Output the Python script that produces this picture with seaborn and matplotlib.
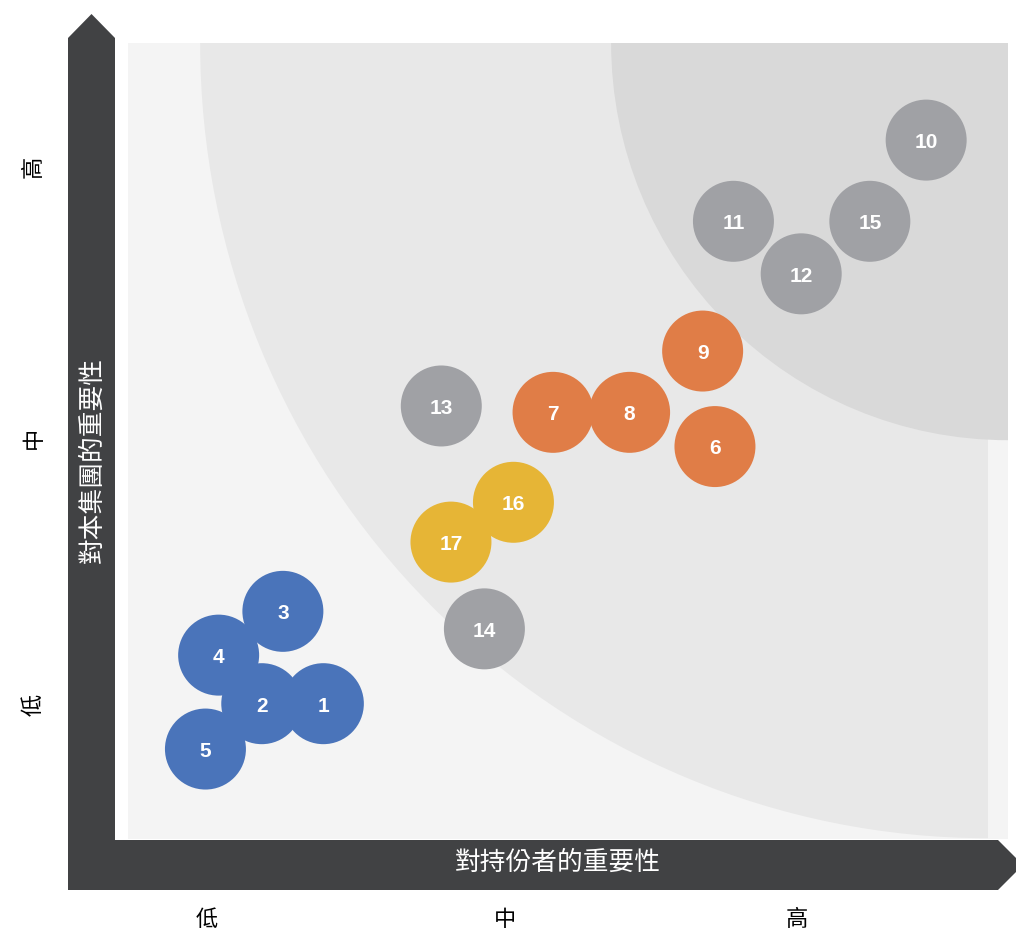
import numpy as np
import pandas as pd
import seaborn as sns
import matplotlib.pyplot as plt
from matplotlib.patches import Ellipse, Polygon, Rectangle

# materiality issues: stakeholder importance (x) vs group importance (y), 0-10 scale
issue_ids = [1, 2, 3, 4, 5, 6, 7, 8, 9, 10, 11, 12, 13, 14, 15, 16, 17]
stakeholder_score = [2.22, 1.52, 1.76, 1.03, 0.88, 6.67, 4.83, 5.70, 6.53, 9.07,
                     6.88, 7.65, 3.56, 4.05, 8.43, 4.38, 3.67]
group_score = [1.70, 1.70, 2.86, 2.31, 1.13, 4.93, 5.36, 5.36, 6.13, 8.78,
               7.76, 7.10, 5.44, 2.64, 7.76, 4.23, 3.73]
issue_group = ['blue', 'blue', 'blue', 'blue', 'blue',
               'orange', 'orange', 'orange', 'orange',
               'gray', 'gray', 'gray', 'gray', 'gray', 'gray',
               'yellow', 'yellow']

x_tick_pos = [0.90, 4.28, 7.60]
y_tick_pos = [1.68, 5.04, 8.44]
tick_labels = ['低', '中', '高']
x_title = '對持份者的重要性'
y_title = '對本集團的重要性'

palette = {'blue': '#4a74ba', 'orange': '#e07d47', 'gray': '#a0a1a5', 'yellow': '#e6b536'}

df = pd.DataFrame({'id': issue_ids, 'x': stakeholder_score, 'y': group_score,
                   'group': issue_group})

sns.set_style('white')
plt.rcParams['font.family'] = ['Noto Sans CJK TC', 'DejaVu Sans']

fig = plt.figure(figsize=(10.16, 9.3), dpi=100)

# background layer in pixel units for the arrows and axis titles
bg = fig.add_axes([0, 0, 1, 1], zorder=0)
bg.set_xlim(0, 1016)
bg.set_ylim(930, 0)
bg.axis('off')
bar_col = '#414244'
bg.add_patch(Polygon([(68, 890), (68, 38), (91.5, 14), (115, 38), (115, 890)],
                     closed=True, color=bar_col, lw=0))
bg.add_patch(Polygon([(68, 840), (998, 840), (1023, 865), (998, 890), (68, 890)],
                     closed=True, color=bar_col, lw=0))
bg.text(558, 863, x_title, color='white', fontsize=18.5, ha='center', va='center')
bg.text(93, 460, y_title, color='white', fontsize=18.5, ha='center', va='center',
        rotation=90)

# matrix
ax = fig.add_axes([128 / 1016, 91 / 930, 880 / 1016, 796 / 930], zorder=1)
ax.set_facecolor('#f4f4f4')
ax.set_xlim(0, 10)
ax.set_ylim(0, 10)

clip = Rectangle((0, 0), 9.77, 10, transform=ax.transData)
mid = Ellipse((9.77, 10), 2 * 8.95, 2 * 9.99, color='#e8e8e8', lw=0, zorder=0)
ax.add_patch(mid)
mid.set_clip_path(clip)
ax.add_patch(Ellipse((10, 10), 2 * 4.51, 2 * 4.99, color='#d9d9d9', lw=0, zorder=1))

sns.scatterplot(data=df, x='x', y='y', hue='group', palette=palette, s=3400,
                linewidth=0, alpha=1, legend=False, ax=ax, zorder=3)
for _, r in df.iterrows():
    ax.text(r['x'], r['y'] - 0.03, str(r['id']), color='white', fontsize=15,
            fontweight='bold', family='Liberation Sans', ha='center', va='center',
            zorder=4)

for s in ax.spines.values():
    s.set_visible(False)
ax.set_xlabel('')
ax.set_ylabel('')
ax.set_xticks(x_tick_pos)
ax.set_xticklabels(tick_labels, fontsize=16, color='black')
ax.set_yticks(y_tick_pos)
ax.set_yticklabels(tick_labels, fontsize=16, rotation=90, va='center', color='black')
ax.tick_params(axis='x', length=0, pad=50)
ax.tick_params(axis='y', length=0, pad=60)

fig.savefig('out.png', dpi=100)
